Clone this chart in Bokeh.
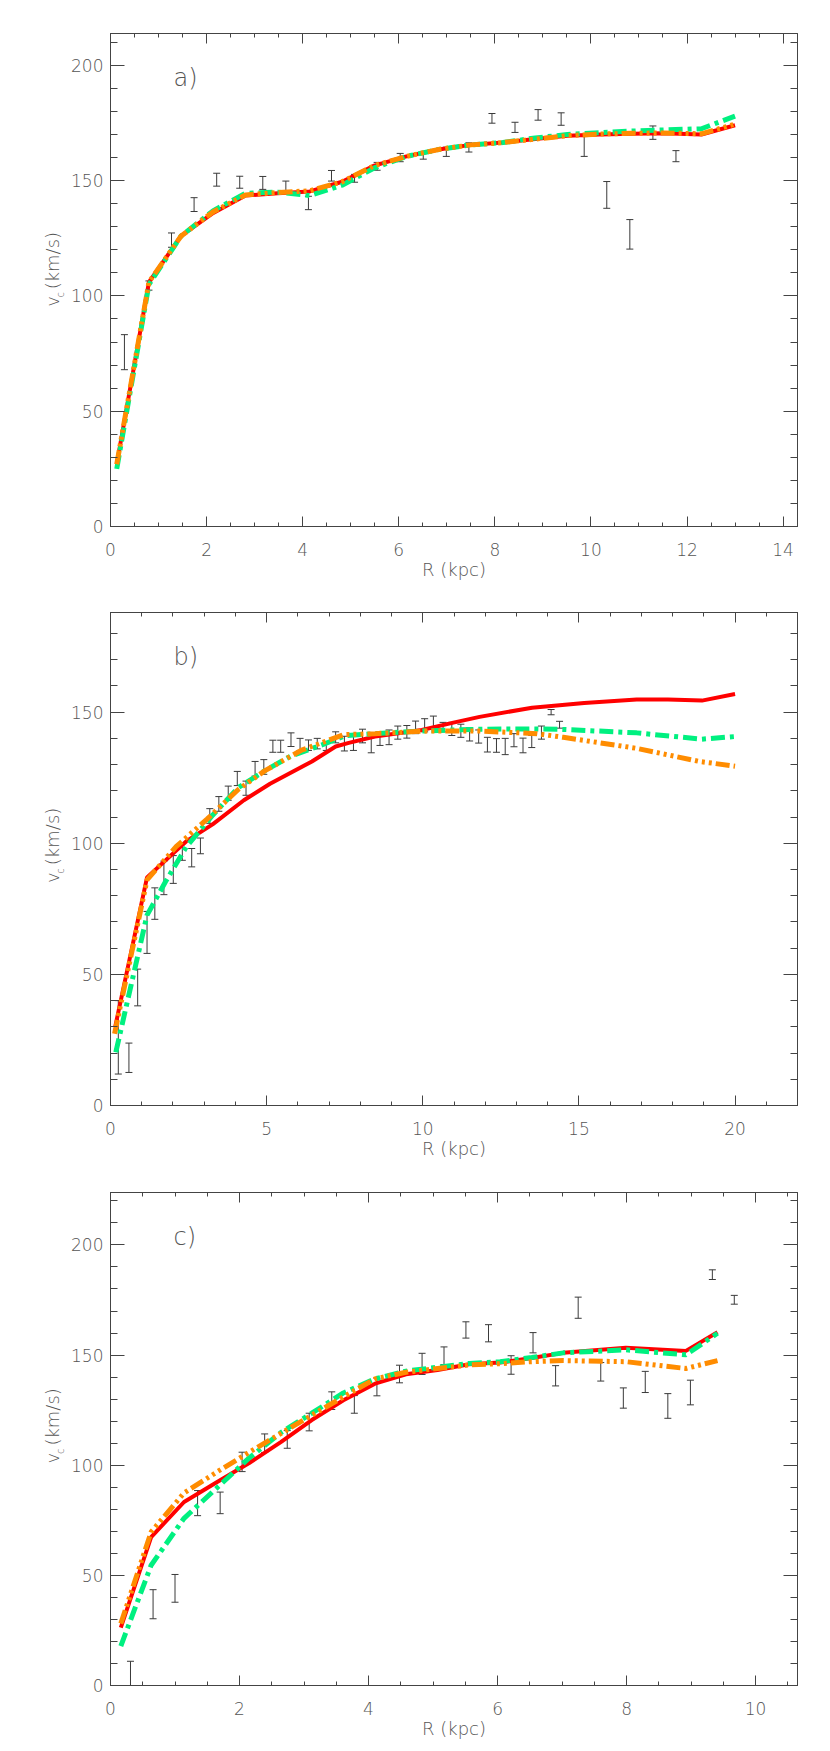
import numpy as np
from bokeh.plotting import figure
from bokeh.layouts import column, row
from bokeh.models import (LinearAxis, SingleIntervalTicker, Range1d, Label,
                          ColumnDataSource)
from bokeh.core.properties import value
from bokeh.embed import file_html
from bokeh.resources import INLINE

# ---------------- data ----------------
# panel a
ra_obs = [0.29, 0.80, 1.27, 1.74, 2.21, 2.69, 3.17, 3.65, 4.12, 4.60, 5.08, 5.55, 6.03,
          6.51, 6.99, 7.46, 7.94, 8.42, 8.90, 9.38, 9.86, 10.33, 10.81, 11.29, 11.77]
va_obs = [75.6, 104.5, 124.2, 139.6, 150.4, 149.3, 149.0, 147.5, 140.3, 152.1, 151.0, 156.2,
          160.0, 160.9, 162.5, 164.4, 177.0, 173.1, 178.5, 176.7, 164.8, 143.8, 126.7, 170.8, 160.6]
ea_obs = [7.6, 2.0, 3.1, 3.0, 2.8, 2.6, 2.8, 2.3, 2.9, 2.3, 1.7, 1.7, 1.8, 1.6, 2.0, 2.0,
          2.1, 2.2, 2.3, 2.7, 4.3, 5.8, 6.4, 2.9, 2.4]
ra_mod = [0.13, 0.80, 1.47, 2.14, 2.81, 3.48, 4.15, 4.82, 5.49, 6.16, 6.83, 7.50, 8.17,
          8.84, 9.51, 10.18, 10.85, 11.52, 12.30, 13.0]
va_red = [27, 106, 126, 136, 143.5, 144.5, 145.3, 149.5, 156.5, 160.5, 163.5, 165.5, 166.5,
          168, 169.5, 170, 170.3, 170.5, 170, 174]
va_green = [25, 105, 126, 137, 144.5, 145, 143.5, 148, 155.5, 160.5, 163.5, 165.5, 166.5,
            168.5, 170, 170.8, 171.5, 172, 172.5, 178]
va_orange = [27, 106, 126, 136.5, 143.8, 144.8, 145.6, 149.5, 156.5, 160.5, 163.5, 165.5, 166.5,
             168, 169.5, 170.2, 170.5, 170.7, 170.3, 174.5]

# panel b
rb_obs = [0.25, 0.59, 0.87, 1.17, 1.42, 1.71, 2.01, 2.30, 2.60, 2.88, 3.18, 3.47, 3.77, 4.06,
          4.34, 4.63, 4.91, 5.20, 5.45, 5.78, 6.07, 6.34, 6.62, 6.91, 7.21, 7.49, 7.78, 8.07,
          8.35, 8.63, 8.92, 9.20, 9.49, 9.77, 10.06, 10.34, 10.65, 10.93, 11.22, 11.50, 11.79,
          12.07, 12.36, 12.64, 12.92, 13.21, 13.49, 13.80, 14.11, 14.38]
vb_obs = [26, 18.2, 45, 66, 77, 86.8, 90, 96.8, 94.5, 99, 110.4, 115, 119.1, 124.7, 121, 128.4,
          129.1, 137, 137, 139.5, 137.7, 137.4, 138, 137, 140.4, 138, 138.6, 140.9, 137.8, 139.9,
          140.4, 142.2, 142.5, 144.2, 145, 146, 144.3, 143.6, 142.9, 141.5, 140.7, 137.6, 137.3,
          136.9, 139.3, 137.3, 138.8, 142.2, 150, 145.2]
eb_obs = [14, 5.6, 7, 8, 6, 6.4, 5.3, 3.3, 3.5, 3, 2.8, 2.8, 2.7, 2.7, 2.7, 2.8, 2.8, 2.3, 2.3,
          2.6, 2.3, 2, 2, 1.6, 2.1, 2.8, 3.2, 2.6, 3.3, 2.6, 2.8, 2.5, 2.4, 2.4, 2.5, 2.5, 1.8,
          2.5, 2.5, 2.5, 2.5, 2.8, 2.6, 3.1, 2.5, 2.8, 2.3, 2.5, 1.0, 1.3]
rb_red = [0.15, 1.17, 2.43, 3.27, 4.27, 5.11, 6.45, 7.21, 7.63, 8.47, 9.97, 10.98, 11.82, 13.5,
          15.17, 16.85, 17.85, 18.94, 20.0]
vb_red = [30, 87, 100.8, 107.2, 116.4, 122.7, 131.2, 136.9, 138.3, 140.7, 143.2, 146, 148.2,
          151.7, 153.5, 154.8, 154.8, 154.4, 156.9]
rb_green = [0.17, 1.17, 1.76, 2.43, 3.27, 4.10, 4.95, 5.78, 6.79, 7.54, 8.47, 10.14, 11.82,
            13.5, 14.33, 16.85, 18.94, 20.0]
vb_green = [20.3, 72.6, 85.3, 98.7, 110.7, 121.3, 127.7, 133.3, 137.6, 141.1, 141.8, 142.9,
            143.5, 143.6, 143.5, 142.1, 139.7, 140.7]
rb_orange = [0.13, 1.17, 2.10, 3.10, 4.10, 4.95, 6.12, 7.46, 8.47, 10.14, 11.82, 13.66, 14.5,
             16.85, 18.86, 20.0]
vb_orange = [27.4, 86, 98.7, 109.3, 120.6, 127.7, 135.5, 141.4, 141.8, 142.8, 142.8, 141.8,
             140.4, 136.2, 131.2, 129.4]

# panel c
rc_obs = [0.31, 0.66, 1.00, 1.35, 1.70, 2.04, 2.39, 2.74, 3.08, 3.43, 3.78, 4.13, 4.48, 4.83,
          5.17, 5.51, 5.86, 6.21, 6.55, 6.90, 7.25, 7.60, 7.95, 8.29, 8.64, 8.99, 9.33, 9.67]
vc_obs = [2, 36.9, 44.1, 82.8, 82.9, 101.5, 110, 111.7, 119.6, 129.3, 127.6, 135.5, 141.4, 146,
          149.7, 161.4, 159.9, 145.5, 155.6, 140.6, 171.5, 142.4, 130.5, 137.8, 126.9, 133,
          186.5, 175.1]
ec_obs = [9, 6.6, 6.3, 5.7, 4.9, 4.4, 4.2, 4, 4, 4, 4, 4, 4, 4.8, 4, 3.7, 3.9, 4.2, 4.6, 4.6,
          4.8, 4.2, 4.6, 4.8, 5.6, 5.6, 2.2, 2]
rc_mod = [0.16, 0.63, 1.14, 1.66, 2.15, 2.64, 3.12, 3.61, 4.10, 4.58, 5.07, 5.56, 6.04, 6.53,
          7.02, 7.99, 8.92, 9.41]
vc_red = [26.3, 67.4, 83.3, 92.5, 101, 110.5, 120.5, 129.5, 137, 141.3, 143.2, 145.8, 146.6,
          148.7, 151, 153.3, 151.9, 160.4]
vc_green = [17.9, 54.6, 75.9, 90, 103.3, 114.8, 123.6, 132.8, 139.2, 142.7, 144.5, 146.2, 147,
            148.9, 151, 152.4, 150.1, 159.9]
vc_orange = [28.1, 69.7, 87.4, 97.1, 105.9, 114.4, 122.7, 131, 139.2, 142.2, 143.9, 145.5,
             146.1, 147, 147.5, 147, 143.9, 147.5]

panel_names = ["a)", "b)", "c)"]
x_ranges = [14.3, 22.0, 10.65]
y_ranges = [213.8, 188.0, 223.8]
x_major = [2, 5, 2]
x_minor = [4, 5, 4]
y_title = ["v", "c", "(km/s)"]

# ---------------- style ----------------
FONT = "DejaVu Sans Light, DejaVu Sans"
AX = "#444444"
TXT = "#555555"
RED = "#ff0000"
GREEN = "#00f080"
ORANGE = "#ff8c00"
BAR = "#3a3a3a"
FRAME_H = 493
LABEL_W = 68


def ylabel_fig(height, bottom):
    f = figure(width=LABEL_W, height=height, output_backend="svg", toolbar_location=None,
               x_range=Range1d(0, LABEL_W), y_range=Range1d(0, height),
               x_axis_type=None, y_axis_type=None, min_border=0)
    f.grid.visible = False
    f.outline_line_color = None
    yb = bottom
    f.text(x=[52, 52], y=[yb + 207.5, yb + 256], text=[y_title[0], y_title[2]],
           angle=np.pi / 2, text_font=value(FONT), text_font_size="18px",
           text_color=TXT, text_baseline="alphabetic", text_align="center")
    f.text(x=[59.5], y=[yb + 215.5], text=[y_title[1]], angle=np.pi / 2,
           text_font=value(FONT), text_font_size="10px", text_color=TXT,
           text_baseline="alphabetic", text_align="center")
    return f


def make_panel(i, r_obs, v_obs, e_obs, curves, top_b, bottom_b):
    height = top_b + FRAME_H + bottom_b
    p = figure(width=754, height=height, output_backend="svg", toolbar_location=None,
               x_range=Range1d(0, x_ranges[i]), y_range=Range1d(0, y_ranges[i]),
               min_border_left=35, min_border_right=25, min_border_top=top_b,
               min_border_bottom=bottom_b, x_axis_label="R (kpc)")
    p.grid.visible = False
    p.outline_line_color = AX
    p.background_fill_color = "white"
    p.border_fill_color = "white"

    p.xaxis.ticker = SingleIntervalTicker(interval=x_major[i], num_minor_ticks=x_minor[i])
    p.yaxis.ticker = SingleIntervalTicker(interval=50, num_minor_ticks=5)
    for ax in p.xaxis + p.yaxis:
        ax.axis_line_color = AX
        ax.major_tick_line_color = AX
        ax.minor_tick_line_color = AX
        ax.major_tick_out = 0
        ax.minor_tick_out = 0
        ax.major_label_text_font = FONT
        ax.major_label_text_font_size = "17px"
        ax.major_label_text_color = TXT
    for ax in p.xaxis:
        ax.major_tick_in = 10
        ax.minor_tick_in = 4
        ax.major_label_standoff = 16
        ax.axis_label_text_font = FONT
        ax.axis_label_text_font_size = "18px"
        ax.axis_label_text_font_style = "normal"
        ax.axis_label_text_color = TXT
        ax.axis_label_standoff = 0
    for ax in p.yaxis:
        ax.major_tick_in = 14
        ax.minor_tick_in = 7
        ax.major_label_standoff = 7

    # mirrored axes (ticks only)
    top = LinearAxis(ticker=SingleIntervalTicker(interval=x_major[i], num_minor_ticks=x_minor[i]),
                     major_label_text_font_size="1px", major_label_text_color=None,
                     major_label_text_alpha=0, major_tick_in=10, minor_tick_in=4,
                     major_tick_out=0, minor_tick_out=0, axis_line_color=AX,
                     major_tick_line_color=AX, minor_tick_line_color=AX,
                     major_label_standoff=0)
    right = LinearAxis(ticker=SingleIntervalTicker(interval=50, num_minor_ticks=5),
                       major_label_text_font_size="1px", major_label_text_color=None,
                       major_label_text_alpha=0, major_tick_in=14, minor_tick_in=7,
                       major_tick_out=0, minor_tick_out=0, axis_line_color=AX,
                       major_tick_line_color=AX, minor_tick_line_color=AX,
                       major_label_standoff=0)
    p.add_layout(top, "above")
    p.add_layout(right, "right")

    # error bars
    r = np.array(r_obs)
    v = np.array(v_obs)
    e = np.array(e_obs)
    src = ColumnDataSource(dict(x=r, lo=v - e, hi=v + e))
    p.segment(x0="x", y0="lo", x1="x", y1="hi", source=src, line_color=BAR, line_width=1)
    p.scatter(x="x", y="lo", source=src, marker="dash", size=7, line_color=BAR, line_width=1)
    p.scatter(x="x", y="hi", source=src, marker="dash", size=7, line_color=BAR, line_width=1)

    # model curves
    (xr, yr), (xg, yg), (xo, yo) = curves
    p.line(xr, yr, line_color=RED, line_width=4)
    p.line(xg, yg, line_color=GREEN, line_width=5, line_dash="14 5 4 5")
    p.line(xo, yo, line_color=ORANGE, line_width=5, line_dash="14 4 3 4 3 4 3 4")

    # panel label
    p.add_layout(Label(x=63, y=FRAME_H - 44, x_units="screen", y_units="screen",
                       text=panel_names[i], text_font=FONT, text_font_size="24px",
                       text_color=TXT, text_baseline="middle", text_align="left"))
    return row(ylabel_fig(height, bottom_b), p, spacing=0)


ra = make_panel(0, ra_obs, va_obs, ea_obs,
                [(ra_mod, va_red), (ra_mod, va_green), (ra_mod, va_orange)], 33, 60)
rb = make_panel(1, rb_obs, vb_obs, eb_obs,
                [(rb_red, vb_red), (rb_green, vb_green), (rb_orange, vb_orange)], 26, 60)
rc = make_panel(2, rc_obs, vc_obs, ec_obs,
                [(rc_mod, vc_red), (rc_mod, vc_green), (rc_mod, vc_orange)], 27, 60)

layout = column(ra, rb, rc, spacing=0)
open("out.html", "w").write(file_html(layout, INLINE))
